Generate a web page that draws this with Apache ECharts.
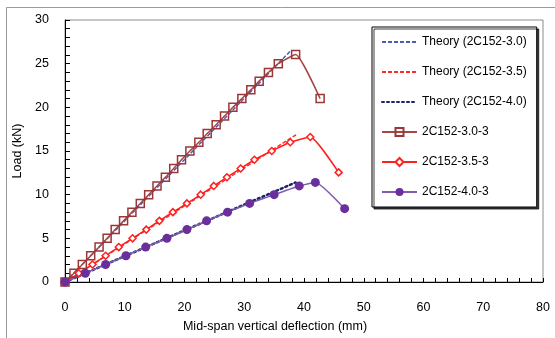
<!DOCTYPE html>
<html>
<head>
<meta charset="utf-8">
<script src="https://cdn.jsdelivr.net/npm/echarts@6/dist/echarts.min.js"></script>
<style>
	html, body { margin:0; padding:0; background:#fff; }
	#loadChart { width:555px; height:338px; }
</style>
</head>
<body>
<div id="loadChart"></div>
<script>
// 试验曲线 2C152-3.0-3 (mm, kN)
var deflection30 = [0, 1.5, 2.9, 4.3, 5.7, 7.05, 8.4, 9.8, 11.2, 12.6, 14, 15.4, 16.8, 18.2, 19.5, 20.9, 22.4, 23.8, 25.3, 26.7, 28.1, 29.6, 31.1, 32.5, 34.05, 35.7, 38.6, 42.7];
var load30 = [0, 1, 2, 3, 4, 5, 6, 7, 8, 9, 10, 11, 12, 13, 14, 15, 16, 17, 18, 19, 20, 21, 22, 23, 24, 25, 26.05, 21];
// 试验曲线 2C152-3.5-3
var deflection35 = [0, 2.3, 4.6, 6.8, 9, 11.3, 13.6, 15.8, 18.05, 20.4, 22.7, 24.9, 27.1, 29.4, 31.7, 34.6, 37.7, 41.05, 45.8];
var load35 = [0, 1, 2, 3, 4, 5, 6, 7, 8, 9, 10, 11, 12, 13, 14, 15, 16, 16.6, 12.55];
// 试验曲线 2C152-4.0-3
var deflection40 = [0, 3.4, 6.8, 10.2, 13.5, 17.05, 20.4, 23.7, 27.2, 30.9, 35, 39.2, 41.9, 46.8];
var load40 = [0, 1, 2, 3, 4, 5, 6, 7, 8, 9, 10, 11, 11.4, 8.4];
// 理论曲线（直线）
var theoryDeflection30 = [0, 37.8];
var theoryLoad30 = [0, 26.5];
var theoryDeflection35 = [0, 39];
var theoryLoad35 = [0, 17.0];
var theoryDeflection40 = [0, 38.6];
var theoryLoad40 = [0, 11.4];
// 坐标轴刻度
var xTicks = [0, 10, 20, 30, 40, 50, 60, 70, 80];
var yTicks = [0, 5, 10, 15, 20, 25, 30];
var seriesNames = ['Theory (2C152-3.0)', 'Theory (2C152-3.5)', 'Theory (2C152-4.0)', '2C152-3.0-3', '2C152-3.5-3', '2C152-4.0-3'];

function toPairs(xs, ys) {
	var arr = [];
	for (var i = 0; i < xs.length; i++) {
		arr.push([xs[i], ys[i]]);
	}
	return arr;
}

var fontName = '"Liberation Sans", Arial, sans-serif';
var noMark = { color: 'rgba(0,0,0,0)', borderWidth: 0 }; //理论线不显示图例圆点
var myChart = echarts.init(document.getElementById('loadChart'), null, {renderer: 'canvas'});

var options = {
	animation: false,
	backgroundColor: '#fff',
	textStyle: { fontFamily: fontName },
	graphic: [
		{ //外框
			type: 'rect', silent: true, z: -10,
			shape: { x: 6.5, y: 7.5, width: 600, height: 400 },
			style: { fill: 'none', stroke: '#9a9a9a', lineWidth: 1 }
		}
	],
	grid: {
		left: 65, top: 20, right: 12, bottom: 54,
		show: true, borderColor: '#8c8c8c', borderWidth: 1, backgroundColor: 'transparent'
	},
	legend: {
		orient: 'vertical',
		left: 372, top: 27,
		padding: [9, 10, 9, 9],
		itemWidth: 35, itemHeight: 10, itemGap: 18,
		backgroundColor: '#fff',
		borderColor: '#000', borderWidth: 1,
		shadowColor: 'rgba(0,0,0,0.75)', shadowOffsetX: 2, shadowOffsetY: 2, shadowBlur: 0,
		textStyle: { fontSize: 12, color: '#000', fontFamily: fontName },
		data: seriesNames
	},
	xAxis: {
		type: 'value',
		min: xTicks[0], max: xTicks[xTicks.length - 1], interval: 10,
		name: 'Mid-span vertical deflection (mm)',
		nameLocation: 'middle', nameGap: 38,
		nameTextStyle: { fontSize: 12.5, color: '#000', padding: [0, 58, 0, 0] },
		axisLine: { lineStyle: { color: '#000', width: 1 } },
		axisTick: { inside: true, length: 4, lineStyle: { color: '#000' } },
		minorTick: { show: true, splitNumber: 5, length: 4, lineStyle: { color: '#000' } },
		axisLabel: { margin: 19, fontSize: 12.5, color: '#000' },
		splitLine: { show: false }
	},
	yAxis: {
		type: 'value',
		min: yTicks[0], max: yTicks[yTicks.length - 1], interval: 5,
		name: 'Load (kN)',
		nameLocation: 'middle', nameGap: 37,
		nameTextStyle: { fontSize: 12.5, color: '#000' },
		axisLine: { show: true, lineStyle: { color: '#000', width: 1 } },
		axisTick: { show: true, inside: true, length: 5, lineStyle: { color: '#000' } },
		minorTick: { show: true, splitNumber: 5, length: 5, lineStyle: { color: '#000' } },
		axisLabel: { margin: 16, fontSize: 12.5, color: '#000' },
		splitLine: { show: false }
	},
	series: [
		{
			name: seriesNames[0], type: 'line', symbol: 'circle', symbolSize: 0, showSymbol: false,
			data: toPairs(theoryDeflection30, theoryLoad30),
			lineStyle: { color: '#4c5cb4', width: 1.5, type: [4, 2] },
			itemStyle: noMark
		},
		{
			name: seriesNames[1], type: 'line', symbol: 'circle', symbolSize: 0, showSymbol: false,
			data: toPairs(theoryDeflection35, theoryLoad35),
			lineStyle: { color: '#ff2a2a', width: 1.5, type: [4, 2] },
			itemStyle: noMark
		},
		{
			name: seriesNames[2], type: 'line', symbol: 'circle', symbolSize: 0, showSymbol: false,
			data: toPairs(theoryDeflection40, theoryLoad40),
			lineStyle: { color: '#1b2668', width: 2.5, type: [2, 3], cap: 'round' },
			itemStyle: noMark
		},
		{
			name: seriesNames[3], type: 'line', symbol: 'rect', symbolSize: 8, smooth: 0.15,
			data: toPairs(deflection30, load30),
			lineStyle: { color: '#a54545', width: 1.5 },
			itemStyle: { color: 'rgba(255,255,255,0)', borderColor: '#9b3636', borderWidth: 1.5 }
		},
		{
			name: seriesNames[4], type: 'line', symbol: 'diamond', symbolSize: 7, smooth: 0.15,
			data: toPairs(deflection35, load35),
			lineStyle: { color: '#ff1f1f', width: 1.5 },
			itemStyle: { color: '#fff', borderColor: '#ff1f1f', borderWidth: 1.5 }
		},
		{
			name: seriesNames[5], type: 'line', symbol: 'circle', symbolSize: 9, smooth: 0.15,
			data: toPairs(deflection40, load40),
			lineStyle: { color: '#7d5db0', width: 1.5 },
			itemStyle: { color: '#6a2f9c', borderColor: '#6a2f9c', borderWidth: 0 }
		}
	]
};
myChart.setOption(options);
</script>
</body>
</html>
